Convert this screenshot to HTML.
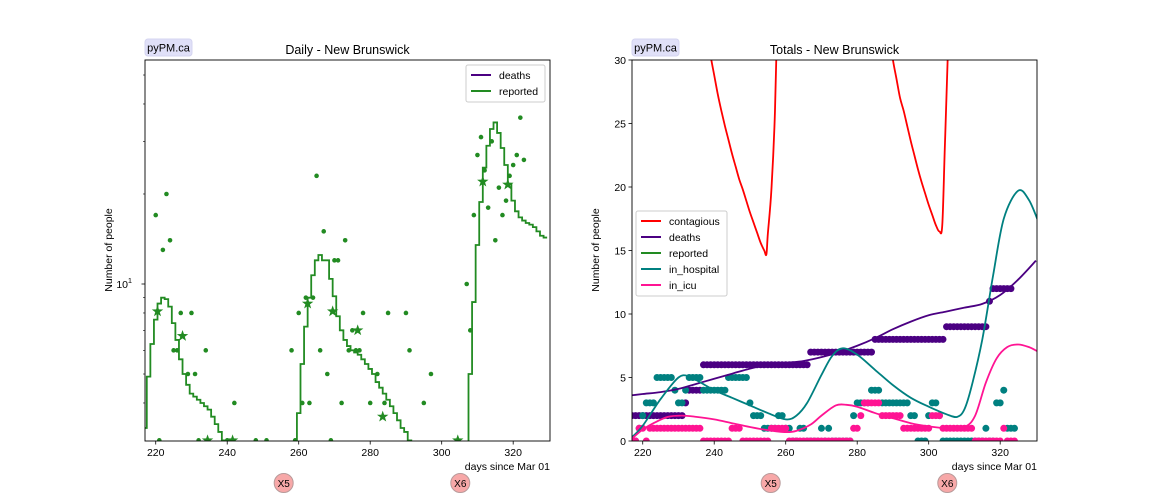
<!DOCTYPE html>
<html><head><meta charset="utf-8">
<style>
html,body{margin:0;padding:0;background:#fff;width:1152px;height:504px;overflow:hidden;}
svg{display:block;font-family:"Liberation Sans","DejaVu Sans",sans-serif;}
</style></head>
<body>
<svg id="fig" width="1152" height="504" viewBox="0 0 1152 504" xmlns="http://www.w3.org/2000/svg">
<defs>
<clipPath id="clipL"><rect x="145" y="60" width="405" height="381"/></clipPath>
<clipPath id="clipR"><rect x="632" y="60" width="405" height="381"/></clipPath>
</defs>
<g id="left"></g>
<g id="right"></g>
</svg>
<script>
// ---------- data ----------
const xTicks = [220, 240, 260, 280, 300, 320];
const leftYMinorTicks = [4, 5, 6, 7, 8, 9, 20, 30, 40, 50];
const rightYTicks = [0, 5, 10, 15, 20, 25, 30];
const markerDays = [255.8, 305.2];
const markerLabels = ["X5", "X6"];

const reportedStepStart = 217;
const reportedStep = [3.3,4.9,6.3,7.6,8.6,9.0,8.9,8.4,7.4,6.5,5.6,5.0,4.6,4.3,4.2,4.1,4.0,3.9,3.8,3.6,3.4,3.2,3.0,2.8,
 0,0,0,0,0,0,0,0,0,0,0,0,0,0,0,0,0,0,0,
 3.7,5.4,7.2,9.0,10.7,12.0,12.5,12.0,12.0,10.4,9.1,7.8,7.0,6.5,6.2,6.0,5.9,5.8,5.6,5.4,5.2,5.0,4.7,4.5,4.3,4.1,3.9,3.7,3.5,3.3,3.2,3.0,2.8,
 0,0,0,0,0,0,0,0,0,0,0,0,0,0,0,
 5,8.7,13.5,18.8,24.5,29,33,34.7,32,28.5,25,21.6,19,17.5,16.7,16.3,16,15.8,15.5,15,14.5,14.3];

const dailyDays = [220,221,222,223,224,225,226,227,229,230,231,232,234,240,242,248,251,
 258,259,260,261,262,263,264,265,266,267,268,269,270,271,272,273,274,275,276,277,278,280,282,284,285,290,291,295,297,
 307,308,309,310,311,312,313,314,315,316,317,318,319,320,321,322,323];
const dailyValues = [17,3,13,20,14,6,6,8,5,8,5,3,6,3,4,3,3,
 6,3,8,4,9,4,9,23,6,15,5,3,12,12,4,14,6,7,6,6,8,4,5,4,8,8,6,4,5,
 10,7,17,27,31,24,18,30,14,21,17,19,23,25,27,36,26];

const weeklyDays = [220.5,227.5,234.5,241.5,262.5,269.5,276.5,283.5,304.5,311.5,318.5];
const weeklyValues = [8.1,6.7,3,3,8.6,8.1,7,3.6,3,22,21.5];

const contagiousDays1 = [237,238,239,240,241,242,243,244,245,246,247,248,249,250,251,252,253,254,254.6,255,256,257,258];
const contagiousVals1 = [34,32,30.3,28.8,27.3,26,24.8,23.7,22.6,21.6,20.6,19.8,18.9,18,17.2,16.4,15.6,15.0,14.7,16.3,19.8,26,38];
const contagiousDays2 = [289,290,291,292,293,294,295,296,297,298,299,300,301,302,303,303.8,304.5,305.3,306];
const contagiousVals2 = [32,30,28.5,27,26,24.8,23.6,22.5,21.4,20.4,19.5,18.6,17.8,17,16.5,17,23,30,40];

const deathDays = [217,220,225,230,235,240,245,250,255,260,265,270,275,280,285,290,295,300,305,310,315,320,325,330];
const deathVals = [3.6,3.7,3.85,4.1,4.5,4.9,5.3,5.7,6.0,6.15,6.3,6.6,7.0,7.5,8.1,8.8,9.4,9.9,10.2,10.5,10.8,11.5,12.7,14.2];

const hospDays = [217,220,225,230,233,235,240,245,250,255,260,263,266,270,273,276,280,285,290,295,300,305,308,310,312,315,318,321,325,328,330.5];
const hospVals = [0.3,1.2,3.3,5.0,5.1,4.8,4.0,3.4,2.8,2.2,1.7,2.0,3.0,5.2,6.7,7.3,6.8,5.6,4.4,3.4,2.7,2.1,1.9,2.5,4.3,8.0,13.0,17.5,19.7,19.0,17.4];

const icuDays = [217,220,223,227,231,235,240,245,250,255,260,263,267,270,274,277,280,285,290,295,300,305,310,313,316,319,322,325,328,330.5];
const icuVals = [0.2,0.9,1.4,1.9,2.0,1.9,1.7,1.4,1.1,0.85,0.7,0.8,1.3,2.0,2.8,2.85,2.7,2.2,1.8,1.4,1.15,1.0,1.1,2.0,4.6,6.5,7.4,7.6,7.4,7.05];

const dotStart = 217;
const deathDots = [2,2,2,2,2,2,2,2,2,2,2,2,2,2,2, 3, 4,4,4,4,
 6,6,6,6,6,6,6,6,6,6,6,6,6,6,6,6,6,6,6,6,6,6,6,6,6,6,6,6,6,6,
 7,7,7,7,7,7,7,7,7,7,7,7,7,7,7,7,7,7,
 8,8,8,8,8,8,8,8,8,8,8,8,8,8,8,8,8,8,8,8,
 9,9,9,9,9,9,9,9,9,9,9,9, 11, 12,12,12,12,12,12, null];
const hospDots = [0,0,1,2,3,3,3,5,5,5,5,5,4,3,3,4,5,5,5,5,4,4,4,4,4,4,4,5,5,5,5,5,5,3,2,2,2,1,1,1,1,2,2,1,1,0,0,1,1,0,0,0,0,1,0,1,0,0,0,0,0,0,2,3,3,3,3,4,4,4,3,3,3,3,3,3,3,3,2,2,0,0,0,2,3,3,2,0,0,0,0,0,0,0,0,0,0,0,0,1,0,0,3,3,4,1,1,1];
const icuDots = [0,0,1,1,0,1,1,1,1,1,1,1,1,1,1,1,1,1,1,1,0,0,0,0,0,0,0,0,1,1,1,0,0,0,0,0,0,0,0,1,1,1,1,1,0,0,0,0,0,0,0,0,0,0,0,0,0,0,0,0,0,0,1,1,2,3,3,3,3,3,2,2,2,2,2,2,1,1,1,1,1,1,1,1,2,2,2,1,1,1,1,1,1,1,1,1,0,0,0,0,0,0,0,0,1,0,0,0];

// ---------- helpers ----------
const NS = "http://www.w3.org/2000/svg";
const D0 = 217.0, D1 = 330.3;
function mk(parent, tag, attrs, text) {
  const e = document.createElementNS(NS, tag);
  for (const k in attrs) e.setAttribute(k, attrs[k]);
  if (text !== undefined) e.textContent = text;
  parent.appendChild(e);
  return e;
}
function xs(left) { return d => left + (d - D0) / (D1 - D0) * 405; }
const yLog = v => 284 - (Math.log10(Math.max(v, 0.01)) - 1) * 299;
const yLin = v => 441 - v / 30 * 381;
function smoothPath(pts) {
  let s = "M" + pts[0][0].toFixed(2) + "," + pts[0][1].toFixed(2);
  for (let i = 0; i < pts.length - 1; i++) {
    const p0 = pts[Math.max(i - 1, 0)], p1 = pts[i], p2 = pts[i + 1], p3 = pts[Math.min(i + 2, pts.length - 1)];
    const c1 = [p1[0] + (p2[0] - p0[0]) / 6, p1[1] + (p2[1] - p0[1]) / 6];
    const c2 = [p2[0] - (p3[0] - p1[0]) / 6, p2[1] - (p3[1] - p1[1]) / 6];
    s += " C" + c1.map(n=>n.toFixed(2)).join(",") + " " + c2.map(n=>n.toFixed(2)).join(",") + " " + p2[0].toFixed(2) + "," + p2[1].toFixed(2);
  }
  return s;
}
function star(cx, cy, r) {
  let p = [];
  for (let i = 0; i < 10; i++) {
    const a = -Math.PI / 2 + i * Math.PI / 5, rr = i % 2 ? r * 0.4 : r;
    p.push((cx + rr * Math.cos(a)).toFixed(2) + "," + (cy + rr * Math.sin(a)).toFixed(2));
  }
  return p.join(" ");
}
function common(g, left, title, xfun) {
  const b = mk(g, "rect", {x: left, y: 39, width: 47, height: 17, rx: 3, fill: "#e0e0f8", stroke: "#d4d4f0"});
  
  
  const bt = mk(g, "text", {x: left + 23.5, y: 51.5, "font-size": 11, "text-anchor": "middle", fill: "#000"}, "pyPM.ca");
  
  
  const t = mk(g, "text", {x: left + 202.5, y: 54, "font-size": 12.5, "text-anchor": "middle", fill: "#000"}, title);
  
  
  xTicks.forEach(v => {
    const x = xfun(v);
    const tk = mk(g, "line", {x1: x, x2: x, y1: 441, y2: 444.5, stroke: "#000", "stroke-width": 0.8});
    
    
    const tl = mk(g, "text", {x: x, y: 456, "font-size": 10.5, "text-anchor": "middle"}, String(v));
    
    
  });
  const xl = mk(g, "text", {x: left + 405, y: 470, "font-size": 10.5, "text-anchor": "end"}, "days since Mar 01");
  
  
  const yl = mk(g, "text", {x: 0, y: 0, "font-size": 10.5, "text-anchor": "middle", transform: "translate(" + (left - 33) + ",250) rotate(-90)"}, "Number of people");
  
  
  markerDays.forEach((d, i) => {
    const cx = xfun(d);
    const c = mk(g, "circle", {cx: cx, cy: 483, r: 9.5, fill: "#f7a8a8", stroke: "#b89a9a", "stroke-width": 1});
    
    
    const ct = mk(g, "text", {x: cx, y: 487, "font-size": 10, "text-anchor": "middle"}, markerLabels[i]);
    
    
  });
}
function frame(g, left) {
  const f = mk(g, "rect", {x: left, y: 60, width: 405, height: 381, fill: "none", stroke: "#000", "stroke-width": 0.9});
  
  
}
function legend(g, x, y, w, items) {
  const h = items.length * 16 + 5;
  const box = mk(g, "rect", {x: x, y: y, width: w, height: h, rx: 2, fill: "#fff", stroke: "#ccc", "stroke-width": 1, "fill-opacity": 0.85});
  
  
  items.forEach((it, i) => {
    const yy = y + 10 + i * 16;
    const ln = mk(g, "line", {x1: x + 5, x2: x + 25, y1: yy, y2: yy, stroke: it[1], "stroke-width": 2});
    
    
    const tx = mk(g, "text", {x: x + 33, y: yy + 3.8, "font-size": 10.5}, it[0]);
    
    
  });
}

// ---------- left chart ----------
(function () {
  const g = document.getElementById("left");
  const X = xs(145);
  common(g, 145, "Daily - New Brunswick", X);
  const c = mk(g, "g", {"clip-path": "url(#clipL)"});
  
  
  let d = "";
  reportedStep.forEach((v, i) => {
    const day = reportedStepStart + i;
    const y = yLog(v);
    if (i === 0) d += "M" + X(day - 0.5) + "," + y;
    else d += " L" + X(day - 0.5) + "," + y;
    d += " L" + X(day + 0.5) + "," + y;
  });
  const sl = mk(c, "path", {d: d, fill: "none", stroke: "#228b22", "stroke-width": 1.8});
  
  
  dailyDays.forEach((day, i) => {
    const p = mk(c, "circle", {cx: X(day), cy: yLog(dailyValues[i]), r: 2.3, fill: "#228b22"});
    
    
  });
  weeklyDays.forEach((day, i) => {
    const s = mk(c, "polygon", {points: star(X(day), yLog(weeklyValues[i]), 6), fill: "#228b22"});
    
    
  });
  frame(g, 145);
  const mj = mk(g, "line", {x1: 141.5, x2: 145, y1: yLog(10), y2: yLog(10), stroke: "#000", "stroke-width": 0.8});
  
  
  const lab = mk(g, "text", {x: 128, y: yLog(10) + 4, "font-size": 10.5, "text-anchor": "end"}, "10");
  
  
  const sup = mk(g, "text", {x: 132, y: yLog(10) - 1, "font-size": 7.5, "text-anchor": "end"}, "1");
  
  
  leftYMinorTicks.forEach(v => {
    const t = mk(g, "line", {x1: 143, x2: 145, y1: yLog(v), y2: yLog(v), stroke: "#000", "stroke-width": 0.6});
    
    
  });
  legend(g, 466, 65, 79, [["deaths", "#4b0082"], ["reported", "#228b22"]]);
})();

// ---------- right chart ----------
(function () {
  const g = document.getElementById("right");
  const X = xs(632);
  common(g, 632, "Totals - New Brunswick", X);
  const c = mk(g, "g", {"clip-path": "url(#clipR)"});
  
  
  function dots(arr, color, name) {
    arr.forEach((v, i) => {
      if (v === null) return;
      const p = mk(c, "circle", {cx: X(dotStart + i), cy: yLin(v), r: 3.5, fill: color});
      
      
    });
  }
  dots(deathDots, "#4b0082", 'deaths-point');
  dots(hospDots, "#008080", 'in-hospital-point');
  dots(icuDots, "#ff1493", 'in-icu-point');
  function curve(days, vals, color, name) {
    const pts = days.map((d, i) => [X(d), yLin(vals[i])]);
    const p = mk(c, "path", {d: smoothPath(pts), fill: "none", stroke: color, "stroke-width": 1.8});
    
    
  }
  curve(contagiousDays1, contagiousVals1, "#ff0000", 'contagious-line-1');
  curve(contagiousDays2, contagiousVals2, "#ff0000", 'contagious-line-2');
  curve(deathDays, deathVals, "#4b0082", 'deaths-line');
  curve(hospDays, hospVals, "#008080", 'in-hospital-line');
  curve(icuDays, icuVals, "#ff1493", 'in-icu-line');
  frame(g, 632);
  rightYTicks.forEach(v => {
    const t = mk(g, "line", {x1: 628.5, x2: 632, y1: yLin(v), y2: yLin(v), stroke: "#000", "stroke-width": 0.8});
    
    
    const l = mk(g, "text", {x: 626, y: yLin(v) + 3.8, "font-size": 10.5, "text-anchor": "end"}, String(v));
    
    
  });
  legend(g, 636, 211, 91, [["contagious", "#ff0000"], ["deaths", "#4b0082"], ["reported", "#228b22"], ["in_hospital", "#008080"], ["in_icu", "#ff1493"]]);
})();
</script>
</body></html>
